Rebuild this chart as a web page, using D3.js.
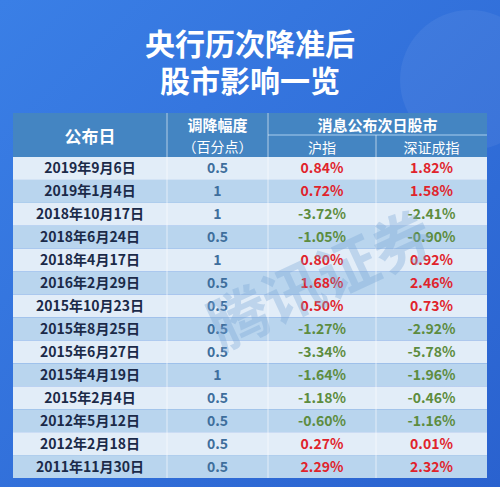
<!DOCTYPE html>
<html><head><meta charset="utf-8">
<script src="https://cdn.jsdelivr.net/npm/d3@7"></script>
<style>body{margin:0;background:#2f6fd8;}svg{display:block;font-family:"Noto Sans CJK SC",sans-serif;}</style>
</head><body>
<svg id="chart" width="500" height="487"></svg>
<script>
// table data
const dates = ["2019年9月6日","2019年1月4日","2018年10月17日","2018年6月24日","2018年4月17日","2016年2月29日","2015年10月23日","2015年8月25日","2015年6月27日","2015年4月19日","2015年2月4日","2012年5月12日","2012年2月18日","2011年11月30日"];
const cuts = ["0.5","1","1","0.5","1","0.5","0.5","0.5","0.5","1","0.5","0.5","0.5","0.5"];
const shanghai = [0.84,0.72,-3.72,-1.05,0.80,1.68,0.50,-1.27,-3.34,-1.64,-1.18,-0.60,0.27,2.29];
const shenzhen = [1.82,1.58,-2.41,-0.90,0.92,2.46,0.73,-2.92,-5.78,-1.96,-0.46,-1.16,0.01,2.32];

const svg = d3.select("#chart");

// background
const defs = svg.append("defs");
const grad = defs.append("linearGradient").attr("id","bg").attr("x1",0).attr("y1",0).attr("x2",1).attr("y2",1);
grad.append("stop").attr("offset","0%").attr("stop-color","#3a7fe6");
grad.append("stop").attr("offset","100%").attr("stop-color","#2a62cf");
svg.append("rect").attr("width",500).attr("height",487).attr("fill","url(#bg)");
svg.append("circle").attr("cx",470).attr("cy",80).attr("r",70).attr("fill","#ffffff").attr("opacity",0.06);

// title
svg.append("text").attr("x",250).attr("y",55).attr("text-anchor","middle")
  .attr("fill","#fff").attr("font-size",30).attr("font-weight","bold").text("央行历次降准后");
svg.append("text").attr("x",250).attr("y",92).attr("text-anchor","middle")
  .attr("fill","#fff").attr("font-size",30).attr("font-weight","bold").text("股市影响一览");

const colX = [13,167,268,376,487];
const headTop = 113, headBottom = 157;
const y = d3.scaleBand().domain(d3.range(dates.length)).range([headBottom,478]);

// header
svg.append("rect").attr("x",colX[0]).attr("y",headTop).attr("width",colX[4]-colX[0]).attr("height",headBottom-headTop).attr("fill","#4485c2");
const hdr = svg.append("g").attr("fill","#fff").attr("font-weight","bold").attr("text-anchor","middle");
hdr.append("text").attr("x",(colX[0]+colX[1])/2).attr("y",143).attr("font-size",17).text("公布日");
hdr.append("text").attr("x",(colX[1]+colX[2])/2).attr("y",131).attr("font-size",15).text("调降幅度");
hdr.append("text").attr("x",(colX[1]+colX[2])/2).attr("y",152).attr("font-size",14).attr("font-weight","normal").text("（百分点）");
hdr.append("text").attr("x",(colX[2]+colX[4])/2).attr("y",131).attr("font-size",15).text("消息公布次日股市");
hdr.append("text").attr("x",(colX[2]+colX[3])/2).attr("y",153).attr("font-size",14).attr("font-weight","normal").text("沪指");
hdr.append("text").attr("x",(colX[3]+colX[4])/2).attr("y",153).attr("font-size",14).attr("font-weight","normal").text("深证成指");
svg.append("line").attr("x1",colX[2]).attr("x2",colX[4]).attr("y1",135).attr("y2",135).attr("stroke","#a9cdee").attr("stroke-width",1);

// rows
const rows = svg.append("g").selectAll("g").data(dates).join("g")
  .attr("transform",(d,i)=>`translate(0,${y(i)})`);
rows.append("rect").attr("x",colX[0]).attr("width",colX[4]-colX[0]).attr("height",y.bandwidth())
  .attr("fill",(d,i)=>i%2 ? "#b9d5ee" : "#e2edf8");
const ty = y.bandwidth()/2 + 5;
const fmt = v => v.toFixed(2) + "%";
const col = v => v >= 0 ? "#e0232b" : "#5d8c3e";
rows.append("text").attr("x",(colX[0]+colX[1])/2).attr("y",ty).attr("text-anchor","middle")
  .attr("font-size",14).attr("font-weight","bold").attr("fill","#1b2a48").text(d=>d);
rows.append("text").attr("x",(colX[1]+colX[2])/2).attr("y",ty).attr("text-anchor","middle")
  .attr("font-size",14).attr("font-weight","bold").attr("fill","#3e6e9c").text((d,i)=>cuts[i]);
rows.append("text").attr("x",(colX[2]+colX[3])/2).attr("y",ty).attr("text-anchor","middle")
  .attr("font-size",14).attr("font-weight","bold").attr("fill",(d,i)=>col(shanghai[i])).text((d,i)=>fmt(shanghai[i]));
rows.append("text").attr("x",(colX[3]+colX[4])/2).attr("y",ty).attr("text-anchor","middle")
  .attr("font-size",14).attr("font-weight","bold").attr("fill",(d,i)=>col(shenzhen[i])).text((d,i)=>fmt(shenzhen[i]));

// column dividers
svg.append("g").selectAll("line").data(colX.slice(1,4)).join("line")
  .attr("x1",d=>d).attr("x2",d=>d).attr("y1",(d,i)=>i==2 ? 135 : headTop).attr("y2",478)
  .attr("stroke","#ffffff").attr("stroke-opacity",0.6);

// watermark
svg.append("text").attr("x",330).attr("y",300).attr("text-anchor","middle").attr("font-size",60)
  .attr("font-weight","bold").attr("fill","#7aa6d6").attr("opacity",0.35)
  .attr("transform","rotate(-25,330,300)").text("腾讯证券");
</script>
</body></html>
